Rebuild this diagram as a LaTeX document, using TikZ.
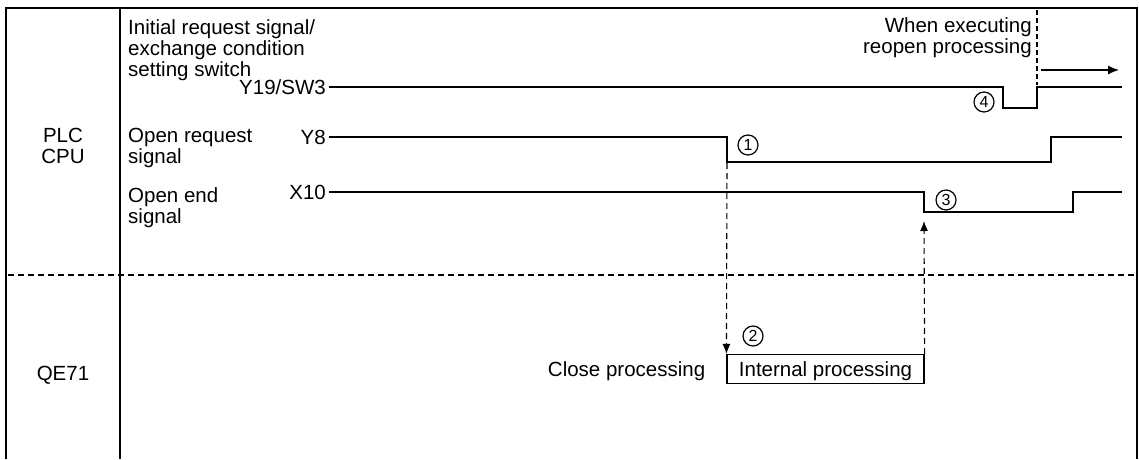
\documentclass[tikz,border=0pt]{standalone}
\usepackage{fontspec}
\setmainfont{Liberation Sans}
\usetikzlibrary{arrows.meta}
\begin{document}
\begin{tikzpicture}[x=1pt,y=-1pt,
  lbl/.style={inner sep=0pt, font=\fontsize{20.5}{21}\selectfont},
  sl/.style={lbl, text height=14.6pt, text depth=0pt},
  sig/.style={line width=1.4pt},
  frameline/.style={line width=1.6pt},
  dsh/.style={line width=1.1pt, dash pattern=on 6pt off 4pt},
  num/.style={circle, draw, line width=1.2pt, inner sep=0pt, minimum size=20pt, font=\fontsize{16}{16}\selectfont},
  tip/.style={-{Latex[length=10pt,width=8pt]}}]
\useasboundingbox (0,0) rectangle (1139,459);
% frame
\draw[frameline] (6,459) -- (6,8) -- (1137,8) -- (1137,459);
\draw[frameline] (120,8) -- (120,459);
\draw[dsh] (8,275) -- (1137,275);
% row labels
\node[lbl, align=center] (plc) at (63,146) {PLC\\CPU};
\node[sl] (qe) at (63,373) {QE71};
% signal descriptions
\node[lbl, align=left, anchor=north west] (l1) at (128,19) {Initial request signal/\\exchange condition\\setting switch};
\node[lbl, align=left, anchor=north west] (l2) at (128,128) {Open request\\signal};
\node[lbl, align=left, anchor=north west] (l3) at (128,187) {Open end\\signal};
\node[lbl, align=right, anchor=north east] (we) at (1032,17) {When executing\\reopen processing};
% signal names
\node[sl, anchor=east] (y19) at (326,87) {Y19/SW3};
\node[sl, anchor=east] (y8) at (326,137) {Y8};
\node[sl, anchor=east] (x10) at (326,192) {X10};
% waveforms
\draw[sig] (y19.east) ++(3,0) -- (1003,87) -- (1003,108) -- (1037,108) -- (1037,87) -- (1122,87);
\draw[sig] (y8.east) ++(3,0) -- (727,137) -- (727,162) -- (1051,162) -- (1051,137) -- (1122,137);
\draw[sig] (x10.east) ++(3,0) -- (924,192) -- (924,212) -- (1073,212) -- (1073,192) -- (1122,192);
% QE71 processing
\node[sl, draw, line width=1.2pt, minimum width=197pt, minimum height=29pt] (box) at (825.5,369) {Internal processing};
\node[sl, anchor=east] (close) at ([xshift=-21pt]box.west) {Close processing};
% numbers
\node[num] (n1) at (748,145) {1};
\node[num] (n2) at (753,336) {2};
\node[num] (n3) at (946,200) {3};
\node[num] (n4) at (984,102) {4};
% dashed arrows
\coordinate (y8drop) at (727,163);
\coordinate (x10tip) at (924,221);
\draw[dsh, tip] (y8drop) -- (box.north west);
\draw[dsh, tip] (box.north east) -- (x10tip);
\coordinate (rtop) at (1037,10);
\coordinate (rbot) at (1037,85);
\draw[line width=1.1pt, dash pattern=on 5pt off 3pt] (rtop) -- (rbot);
\coordinate (as) at (1041,70);
\coordinate (ae) at (1119,70);
\draw[line width=1.2pt, -{Latex[length=11pt,width=9pt]}] (as) -- (ae);
\end{tikzpicture}
\end{document}
